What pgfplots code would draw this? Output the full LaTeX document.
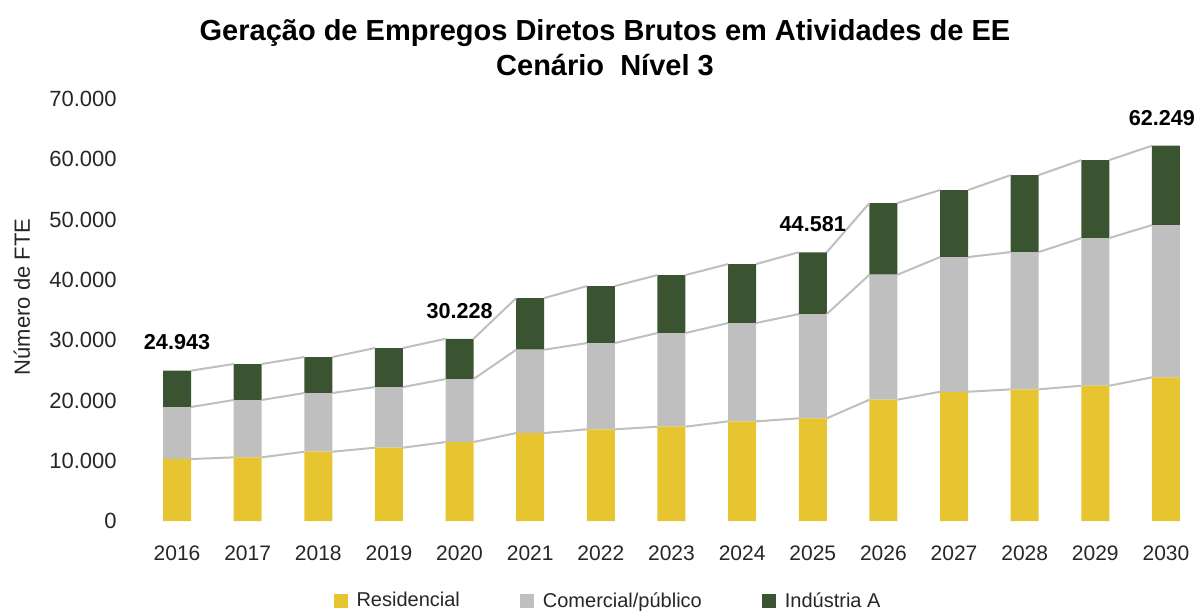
\documentclass[border=0pt]{standalone}
\usepackage{pgfplots}
\pgfplotsset{compat=1.18}
\usepackage{fontspec}
\setmainfont{Liberation Sans}
\definecolor{resY}{HTML}{E6C530}
\definecolor{comG}{HTML}{BFBFBF}
\definecolor{indG}{HTML}{3A5431}
\definecolor{lineG}{HTML}{BFBFBF}
\pgfplotsset{
  common/.style={
    at={(70.85pt,-260.5pt)}, anchor=south west,
    scale only axis, width=526.25pt, height=211pt,
    xmin=-0.5, xmax=14.4, ymin=0, ymax=70000,
    clip=false,
  }
}
\begin{document}
\begin{tikzpicture}
\useasboundingbox (0,0) rectangle (598.5pt,-305pt);
\node[font=\bfseries\fontsize{14.5}{17.5}\selectfont, align=center] at (302.5pt,-23.75pt)
  {Geração de Empregos Diretos Brutos em Atividades de EE\\Cenário\ \ Nível 3};
\node[rotate=90, font=\fontsize{11}{13}\selectfont, text=black!85] at (11pt,-148.5pt) {Número de FTE};
\begin{axis}[common,
  ybar stacked, bar width=14pt,
  axis line style={draw=none}, major tick length=0pt,
  xtick={0,...,14},
  xticklabels={2016,2017,2018,2019,2020,2021,2022,2023,2024,2025,2026,2027,2028,2029,2030},
  xticklabel style={font=\fontsize{10.5}{12}\selectfont, inner sep=0pt, anchor=center, yshift=-16pt, text=black!85},
  ytick={0,10000,...,70000}, scaled y ticks=false,
  /pgf/number format/1000 sep={.},
  /pgf/number format/assume math mode=true,
  yticklabel style={font=\fontsize{11}{13}\selectfont, inner sep=0pt, anchor=east, xshift=-12.3pt, text=black!85},
  legend columns=3,
  legend style={at={(0.444,-0.19)}, anchor=center, draw=none, fill=none,
    font=\fontsize{10}{12}\selectfont, text=black!85,
    /tikz/every odd column/.append style={column sep=2.5pt},
    /tikz/every even column/.append style={column sep=28pt}},
  legend image code/.code={\fill[#1] (0pt,-3.5pt) rectangle (7pt,3.5pt);},
]
\addplot[fill=resY, draw=none] coordinates {
 (0,10280) (1,10560) (2,11490) (3,12160) (4,13100) (5,14590) (6,15210) (7,15640)
 (8,16530) (9,17030) (10,20120) (11,21440) (12,21840) (13,22440) (14,23830)};
\addlegendentry{Residencial}
\addplot[fill=comG, draw=none] coordinates {
 (0,8630) (1,9510) (2,9740) (3,10060) (4,10450) (5,13820) (6,14310) (7,15540)
 (8,16310) (9,17300) (10,20730) (11,22340) (12,22770) (13,24490) (14,25260)};
\addlegendentry{Comercial/público}
\addplot[fill=indG, draw=none] coordinates {
 (0,6033) (1,5970) (2,5970) (3,6470) (4,6678) (5,8570) (6,9450) (7,9620)
 (8,9780) (9,10251) (10,11890) (11,11110) (12,12770) (13,12940) (14,13159)};
\addlegendentry{Indústria A}
\end{axis}
\begin{axis}[common, hide axis, unbounded coords=jump]
\addplot[lineG, line width=1pt, mark=none] coordinates {
 (0.198,10280) (0.802,10560) (0.9,nan)
 (1.198,10560) (1.802,11490) (1.9,nan)
 (2.198,11490) (2.802,12160) (2.9,nan)
 (3.198,12160) (3.802,13100) (3.9,nan)
 (4.198,13100) (4.802,14590) (4.9,nan)
 (5.198,14590) (5.802,15210) (5.9,nan)
 (6.198,15210) (6.802,15640) (6.9,nan)
 (7.198,15640) (7.802,16530) (7.9,nan)
 (8.198,16530) (8.802,17030) (8.9,nan)
 (9.198,17030) (9.802,20120) (9.9,nan)
 (10.198,20120) (10.802,21440) (10.9,nan)
 (11.198,21440) (11.802,21840) (11.9,nan)
 (12.198,21840) (12.802,22440) (12.9,nan)
 (13.198,22440) (13.802,23830)};
\addplot[lineG, line width=1pt, mark=none] coordinates {
 (0.198,18910) (0.802,20070) (0.9,nan)
 (1.198,20070) (1.802,21230) (1.9,nan)
 (2.198,21230) (2.802,22220) (2.9,nan)
 (3.198,22220) (3.802,23550) (3.9,nan)
 (4.198,23550) (4.802,28410) (4.9,nan)
 (5.198,28410) (5.802,29520) (5.9,nan)
 (6.198,29520) (6.802,31180) (6.9,nan)
 (7.198,31180) (7.802,32840) (7.9,nan)
 (8.198,32840) (8.802,34330) (8.9,nan)
 (9.198,34330) (9.802,40850) (9.9,nan)
 (10.198,40850) (10.802,43780) (10.9,nan)
 (11.198,43780) (11.802,44610) (11.9,nan)
 (12.198,44610) (12.802,46930) (12.9,nan)
 (13.198,46930) (13.802,49090)};
\addplot[lineG, line width=1pt, mark=none] coordinates {
 (0.198,24943) (0.802,26040) (0.9,nan)
 (1.198,26040) (1.802,27200) (1.9,nan)
 (2.198,27200) (2.802,28690) (2.9,nan)
 (3.198,28690) (3.802,30228) (3.9,nan)
 (4.198,30228) (4.802,36980) (4.9,nan)
 (5.198,36980) (5.802,38970) (5.9,nan)
 (6.198,38970) (6.802,40800) (6.9,nan)
 (7.198,40800) (7.802,42620) (7.9,nan)
 (8.198,42620) (8.802,44581) (8.9,nan)
 (9.198,44581) (9.802,52740) (9.9,nan)
 (10.198,52740) (10.802,54890) (10.9,nan)
 (11.198,54890) (11.802,57380) (11.9,nan)
 (12.198,57380) (12.802,59870) (12.9,nan)
 (13.198,59870) (13.802,62249)};
\addplot[draw=none, mark=none, nodes near coords, point meta=explicit symbolic,
  nodes near coords style={font=\bfseries\fontsize{10.8}{13}\selectfont, anchor=south, inner sep=0pt, yshift=10pt}]
  coordinates {(0,24943)[24.943] (4,30228)[30.228] (9,44581)[44.581]};
\addplot[draw=none, mark=none, nodes near coords, point meta=explicit symbolic,
  nodes near coords style={font=\bfseries\fontsize{10.8}{13}\selectfont, anchor=south, inner sep=0pt, yshift=10pt, xshift=-2pt}]
  coordinates {(14,62249)[62.249]};
\end{axis}
\end{tikzpicture}
\end{document}
